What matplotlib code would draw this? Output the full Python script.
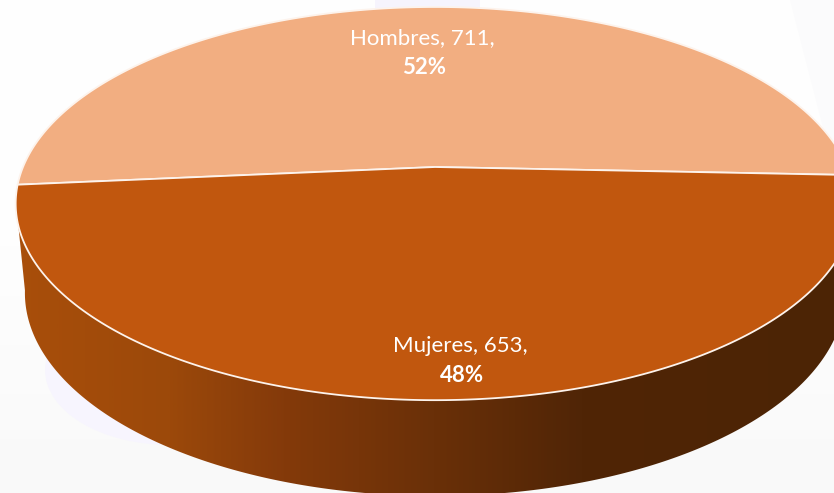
import numpy as np
import matplotlib
matplotlib.use("Agg")
import matplotlib.pyplot as plt
from matplotlib.colors import LinearSegmentedColormap
from matplotlib.patches import Polygon, Ellipse

# data
labels = ["Hombres", "Mujeres"]
values = [711, 653]
colors = ["#F2AE81", "#C1570E"]

# perspective of the pie, in pixels of the 834x493 picture
cx, cy = 435, 167
rx, ry = 412, 189.8
k = 0.186
start_angle = -2.4


def project(theta, sx=1.0, sy=1.0, drop=0):
    u = np.cos(np.radians(theta))
    v = np.sin(np.radians(theta))
    w = 1 + k * v
    return cx + sx * rx * u / w, cy + drop - sy * ry * v / w


plt.rcParams['font.family'] = ['Lato', 'DejaVu Sans']
fig = plt.figure(figsize=(8.34, 4.93), dpi=100, facecolor="white")
ax = fig.add_axes([0, 0, 1, 1])

# faint backdrop
backdrop = LinearSegmentedColormap.from_list("back", ["#FEFEFE", "#FEFEFE", "#F9F9F9"])
ax.imshow(np.linspace(0, 1, 100).reshape(-1, 1), cmap=backdrop, aspect="auto",
          extent=[0, 834, 493, 0], zorder=0)
ax.add_patch(Ellipse((170, 370), 250, 150, color="#F7F5FE", lw=0, zorder=0.5))
ax.add_patch(Polygon([[375, 0], [480, 0], [480, 12], [375, 12]], color="#F6F4FD", lw=0, zorder=0.5))
ax.add_patch(Polygon([[790, 0], [834, 0], [834, 170]], color="#FBFBFC", lw=0, zorder=0.5))

# side wall with the horizontal shading
tx, ty = project(np.linspace(197, 370, 300))
bx, by = project(np.linspace(190, 370, 300), sx=0.978, sy=1.0326, drop=88.2)
wall = Polygon(np.r_[np.c_[tx, ty], np.c_[bx, by][::-1]], closed=True,
               transform=ax.transData, facecolor="none", edgecolor="none")
ax.add_patch(wall)
shade = LinearSegmentedColormap.from_list("wall", [
    (0.0, "#AA4F0B"), (0.2, "#9C490A"), (0.34, "#843A0A"),
    (0.52, "#6A3008"), (0.7, "#502506"), (1.0, "#4C2405")])
img = ax.imshow(np.linspace(0, 1, 400).reshape(1, -1), cmap=shade, aspect="auto",
                extent=[0, 834, 493, 0], zorder=1)
img.set_clip_path(wall)

# top slices, angles come from the values
total = sum(values)
angle = start_angle
for value, color in zip(values, colors):
    sweep = 360 * value / total
    t = np.linspace(angle, angle + sweep, 300)
    x, y = project(t)
    ax.fill(np.r_[cx, x], np.r_[cy, y], facecolor=color, edgecolor="#FDF3EC",
            linewidth=1.3, joinstyle="round", zorder=2)
    angle += sweep

# labels
label_pos = [(422, 38, 67), (460, 346, 375)]
for name, value, (lx, ly1, ly2) in zip(labels, values, label_pos):
    ax.text(lx, ly1, f"{name}, {value},", color="white", fontsize=16,
            ha="center", va="center", zorder=3)
    ax.text(lx + 2, ly2, f"{100 * value / total:.0f}%", color="white", fontsize=16,
            fontweight="bold", ha="center", va="center", zorder=3)

ax.set_xlim(0, 834)
ax.set_ylim(493, 0)
ax.axis("off")

fig.savefig("out.png", dpi=100)
